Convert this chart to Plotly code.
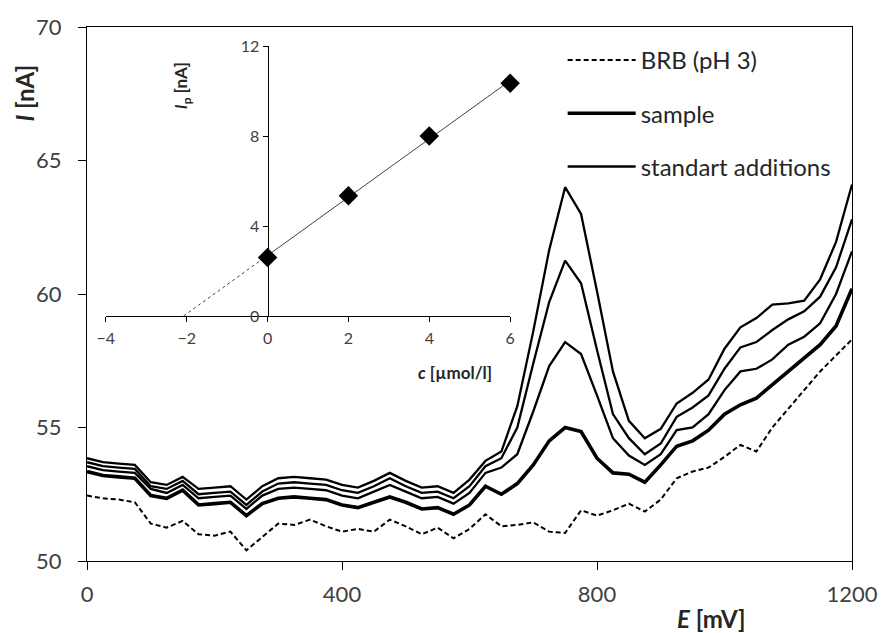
import plotly.graph_objects as go
import numpy as np

# ---------------- data ----------------
E_mV = [0, 25, 50, 75, 100, 125, 150, 175, 200, 225, 250, 275, 300, 325, 350, 375,
        400, 425, 450, 475, 500, 525, 550, 575, 600, 625, 650, 675, 700, 725, 750, 775,
        800, 825, 850, 875, 900, 925, 950, 975, 1000, 1025, 1050, 1075, 1100, 1125,
        1150, 1175, 1200]

brb = [52.45, 52.35, 52.3, 52.2, 51.4, 51.25, 51.5, 51.0, 50.95, 51.1, 50.4, 50.9,
       51.4, 51.35, 51.55, 51.3, 51.1, 51.2, 51.1, 51.55, 51.3, 51.0, 51.25, 50.85,
       51.2, 51.75, 51.3, 51.35, 51.45, 51.1, 51.05, 51.9, 51.7, 51.9, 52.15, 51.85,
       52.3, 53.1, 53.35, 53.5, 53.9, 54.35, 54.1, 55.0, 55.7, 56.4, 57.1, 57.7, 58.3]

sample = [53.35, 53.2, 53.15, 53.1, 52.45, 52.35, 52.65, 52.1, 52.15, 52.2, 51.7, 52.15,
          52.35, 52.4, 52.35, 52.3, 52.1, 52.0, 52.2, 52.4, 52.2, 51.95, 52.0, 51.75,
          52.1, 52.8, 52.5, 52.9, 53.6, 54.5, 55.0, 54.85, 53.85, 53.3, 53.25, 52.95,
          53.6, 54.3, 54.5, 54.9, 55.5, 55.85, 56.1, 56.6, 57.1, 57.6, 58.1, 58.8, 60.2]

add_1 = [53.55, 53.4, 53.35, 53.3, 52.7, 52.55, 52.85, 52.35, 52.4, 52.45, 51.95, 52.45,
         52.7, 52.75, 52.7, 52.65, 52.45, 52.35, 52.6, 52.85, 52.6, 52.35, 52.4, 52.15,
         52.55, 53.3, 53.5, 54.0, 55.6, 57.3, 58.2, 57.75, 56.2, 54.6, 53.95, 53.6,
         54.0, 54.9, 55.0, 55.5, 56.4, 57.1, 57.2, 57.55, 58.1, 58.4, 58.9, 60.0, 61.6]

add_2 = [53.7, 53.55, 53.5, 53.45, 52.8, 52.7, 53.0, 52.5, 52.55, 52.6, 52.1, 52.6,
         52.9, 52.95, 52.9, 52.85, 52.65, 52.55, 52.8, 53.1, 52.8, 52.55, 52.6, 52.35,
         52.8, 53.55, 53.85, 55.0, 57.4, 59.7, 61.25, 60.4, 57.9, 55.5, 54.6, 54.0,
         54.4, 55.4, 55.75, 56.2, 57.2, 58.0, 58.2, 58.65, 59.05, 59.35, 59.9, 61.0, 62.8]

add_3 = [53.85, 53.7, 53.65, 53.6, 52.95, 52.85, 53.15, 52.7, 52.75, 52.8, 52.3, 52.8,
         53.1, 53.15, 53.1, 53.05, 52.85, 52.75, 53.0, 53.3, 53.0, 52.75, 52.8, 52.55,
         53.05, 53.75, 54.1, 55.8, 58.6, 61.65, 64.0, 63.0, 60.1, 57.1, 55.25, 54.6,
         54.95, 55.9, 56.3, 56.8, 57.95, 58.75, 59.1, 59.6, 59.65, 59.75, 60.55, 61.95, 64.1]

# inset (standard addition calibration)
c_umol = [0, 2, 4, 6]
Ip_nA = [2.6, 5.35, 8.0, 10.35]

x_ticks = [0, 400, 800, 1200]
y_ticks = [50, 55, 60, 65, 70]
c_ticks = [-4, -2, 0, 2, 4, 6]
ip_ticks = [0, 4, 8, 12]

# ---------------- figure ----------------
FONT = "Lato"
TICKCOL = "#404040"
W, H = 890, 633
ml, mr, mt, mb = 87, 31, 27, 72
pw, ph = W - ml - mr, H - mt - mb


def px_x(p):
    return (p - ml) / pw


def px_y(p):
    return (H - mb - p) / ph


fig = go.Figure()

fig.add_trace(go.Scatter(x=E_mV, y=brb, mode="lines", name="BRB (pH 3)",
                         legendgroup="a",
                         line=dict(color="black", width=2, dash="5px,3px")))
fig.add_trace(go.Scatter(x=E_mV, y=sample, mode="lines", name="sample",
                         legendgroup="b",
                         line=dict(color="black", width=3.6)))
for i, ser in enumerate([add_1, add_2, add_3]):
    fig.add_trace(go.Scatter(x=E_mV, y=ser, mode="lines", name="standart additions",
                             legendgroup="c", showlegend=(i == 0),
                             line=dict(color="black", width=2.3)))

# inset: fit line
slope, icpt = np.polyfit(c_umol, Ip_nA, 1)
x0 = -icpt / slope
fig.add_trace(go.Scatter(x=[x0, 0], y=[0, icpt], mode="lines", showlegend=False,
                         xaxis="x2", yaxis="y2",
                         line=dict(color="#404040", width=1, dash="dot")))
fig.add_trace(go.Scatter(x=[0, max(c_umol)], y=[icpt, icpt + slope * max(c_umol)],
                         mode="lines", showlegend=False, xaxis="x2", yaxis="y2",
                         line=dict(color="#404040", width=1)))
fig.add_trace(go.Scatter(x=c_umol, y=Ip_nA, mode="markers", showlegend=False,
                         xaxis="x2", yaxis="y2", cliponaxis=False,
                         marker=dict(symbol="diamond", size=15, color="black")))

inset_x0, inset_x1 = px_x(106), px_x(514)
inset_y0, inset_y1 = px_y(316), px_y(46)
c_min, c_max = -4, 6
zero_pos = inset_x0 + (0 - c_min) / (c_max - c_min) * (inset_x1 - inset_x0)

fig.update_layout(
    width=W, height=H,
    margin=dict(l=ml, r=mr, t=mt, b=mb),
    paper_bgcolor="white", plot_bgcolor="white",
    font=dict(family=FONT, color="#262626"),
    xaxis=dict(range=[0, 1200], tickvals=x_ticks, showgrid=False, zeroline=False,
               showline=True, linecolor="black", linewidth=1.3, mirror=True,
               ticks="outside", ticklen=8, tickcolor="black", ticklabelstandoff=5,
               tickfont=dict(size=22, color=TICKCOL, family=FONT)),
    yaxis=dict(range=[50, 70], tickvals=y_ticks, showgrid=False, zeroline=False,
               showline=True, linecolor="black", linewidth=1.3, mirror=True,
               ticks="outside", ticklen=8, tickcolor="black", ticklabelstandoff=12,
               tickfont=dict(size=22, color=TICKCOL, family=FONT)),
    xaxis2=dict(domain=[inset_x0, inset_x1], range=[c_min, c_max], tickvals=c_ticks,
                anchor="y2", showgrid=False, zeroline=False, showline=True,
                linecolor="black", linewidth=1, ticks="outside", ticklen=5,
                tickcolor="black", ticklabelstandoff=3,
                tickfont=dict(size=16, color=TICKCOL, family=FONT)),
    yaxis2=dict(domain=[inset_y0, inset_y1], range=[0, 12], tickvals=ip_ticks,
                anchor="free", position=zero_pos, showgrid=False, zeroline=False,
                showline=True, linecolor="black", linewidth=1, ticks="outside",
                ticklen=5, tickcolor="black",
                tickfont=dict(size=16, color=TICKCOL, family=FONT)),
    legend=dict(x=px_x(567), y=px_y(38), xanchor="left", yanchor="top",
                bgcolor="rgba(0,0,0,0)", font=dict(size=24, family=FONT, color="#262626"),
                tracegroupgap=19, itemwidth=68),
    showlegend=True,
)

ann_font = dict(family=FONT, color="#262626")
fig.add_annotation(x=px_x(24), y=px_y(93), xref="paper", yref="paper",
                   xanchor="center", yanchor="middle",
                   text="<b><i>I</i> [nA]</b>", textangle=-90, showarrow=False,
                   font=dict(size=24, **ann_font))
fig.add_annotation(x=px_x(717), y=px_y(618), xref="paper", yref="paper",
                   xanchor="center", yanchor="middle",
                   text="<b><i>E</i> [mV]</b>", showarrow=False,
                   font=dict(size=24, **ann_font))
fig.add_annotation(x=px_x(183), y=px_y(86), xref="paper", yref="paper",
                   xanchor="center", yanchor="middle",
                   text="<b><i>I</i><sub>p</sub> [nA]</b>", textangle=-90, showarrow=False,
                   font=dict(size=17, **ann_font))
fig.add_annotation(x=px_x(498), y=px_y(372), xref="paper", yref="paper",
                   xanchor="right", yanchor="middle", text="<b><i>c</i> [µmol/l]</b>",
                   showarrow=False, font=dict(size=17, **ann_font))

fig.write_html("out.html")
